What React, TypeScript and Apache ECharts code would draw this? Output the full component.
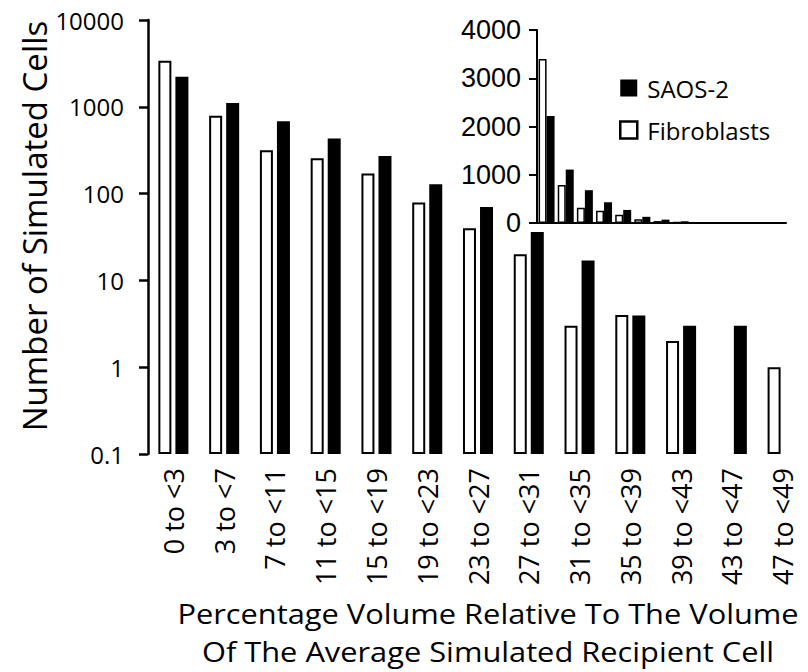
import React, { useEffect, useRef } from "react";
import * as echarts from "echarts";

const categories = [
  "0 to <3", "3 to <7", "7 to <11", "11 to <15", "15 to <19", "19 to <23", "23 to <27",
  "27 to <31", "31 to <35", "35 to <39", "39 to <43", "43 to <47", "47 to <49",
];
const fibroblasts = [3400, 790, 315, 255, 170, 79, 40, 20, 3, 4, 2, 0, 1];
const saos2 = [2220, 1107, 680, 430, 271, 128, 70, 36, 17, 3.95, 3, 3, 0];
const logTickLabels = ["0.1", "1", "10", "100", "1000", "10000"];
const insetTicks = [0, 1000, 2000, 3000, 4000];
const xTitleLines = [
  "Percentage Volume Relative To The Volume",
  "Of The Average Simulated Recipient Cell",
];

const toLog = (v: number) => (v > 0 ? Math.log10(v) + 1 : null);

export default function App() {
  const ref = useRef<HTMLDivElement>(null);
  useEffect(() => {
    if (!ref.current) return;
    const chart = echarts.init(ref.current, undefined, { renderer: "svg" });
    const whiteStyle = { color: "#ffffff", borderColor: "#000000", borderWidth: 2 };
    const blackStyle = { color: "#000000" };
    chart.setOption({
      animation: false,
      backgroundColor: "#ffffff",
      grid: [
        { left: 148, right: -24, top: 20, bottom: 218 },
        { left: 537, width: 249, top: 30, height: 193 },
      ],
      legend: {
        data: [
          { name: "SAOS-2", itemStyle: { color: "#000", borderColor: "#000", borderWidth: 0 } },
          { name: "Fibroblasts", itemStyle: { color: "#fff", borderColor: "#000", borderWidth: 2.5 } },
        ],
        orient: "vertical",
        left: 614,
        top: 71,
        itemWidth: 17,
        itemHeight: 17,
        itemGap: 18,
        icon: "rect",
        selectedMode: false,
        textStyle: {
          fontFamily: "Open Sans",
          fontSize: 24,
          color: "#000",
          padding: [0, 0, 0, 5],
        },
      },
      xAxis: [
        {
          type: "category",
          gridIndex: 0,
          data: categories,
          axisLine: { show: false },
          axisTick: { show: false },
          axisLabel: {
            rotate: 90,
            interval: 0,
            margin: 14,
            color: "#000",
            fontFamily: "Open Sans",
            fontSize: 27,
          },
        },
        {
          type: "category",
          gridIndex: 1,
          data: categories,
          axisLine: { show: true, lineStyle: { color: "#000", width: 2 } },
          axisTick: { show: false },
          axisLabel: { show: false },
        },
      ],
      yAxis: [
        {
          type: "value",
          gridIndex: 0,
          min: 0,
          max: 5,
          interval: 1,
          splitLine: { show: false },
          axisLine: { show: true, lineStyle: { color: "#000", width: 2.5 } },
          axisTick: { show: true, length: 9, lineStyle: { color: "#000", width: 2.5 } },
          axisLabel: {
            margin: 24,
            color: "#000",
            fontFamily: "Open Sans",
            fontSize: 24,
            formatter: (v: number) => logTickLabels[Math.round(v)],
          },
        },
        {
          type: "value",
          gridIndex: 1,
          min: insetTicks[0],
          max: insetTicks[insetTicks.length - 1],
          interval: 1000,
          splitLine: { show: false },
          axisLine: { show: true, lineStyle: { color: "#000", width: 2 } },
          axisTick: { show: true, length: 8, lineStyle: { color: "#000", width: 2 } },
          axisLabel: {
            margin: 16,
            color: "#000",
            fontFamily: "Liberation Sans",
            fontSize: 27,
            formatter: (v: number) => String(v),
          },
        },
      ],
      series: [
        {
          name: "Fibroblasts",
          type: "bar",
          xAxisIndex: 0,
          yAxisIndex: 0,
          data: fibroblasts.map(toLog),
          barWidth: 13,
          barGap: "31%",
          itemStyle: whiteStyle,
        },
        {
          name: "SAOS-2",
          type: "bar",
          xAxisIndex: 0,
          yAxisIndex: 0,
          data: saos2.map(toLog),
          barWidth: 13,
          barGap: "31%",
          itemStyle: blackStyle,
        },
        {
          name: "Fibroblasts",
          type: "bar",
          xAxisIndex: 1,
          yAxisIndex: 1,
          data: fibroblasts,
          barWidth: 8,
          barGap: "0%",
          itemStyle: { color: "#fff", borderColor: "#000", borderWidth: 1.5 },
        },
        {
          name: "SAOS-2",
          type: "bar",
          xAxisIndex: 1,
          yAxisIndex: 1,
          data: saos2,
          barWidth: 8,
          barGap: "0%",
          itemStyle: blackStyle,
        },
      ],
      graphic: [
        {
          type: "text",
          x: 34,
          y: 226,
          rotation: Math.PI / 2,
          style: {
            text: "Number of Simulated Cells",
            align: "center",
            verticalAlign: "middle",
            fontFamily: "Open Sans",
            fontSize: 33,
            fill: "#000",
          },
        },
        ...xTitleLines.map((line, i) => ({
          type: "text",
          x: 488,
          y: 614 + i * 38,
          scaleX: 1.1,
          style: {
            text: line,
            align: "center",
            verticalAlign: "middle",
            fontFamily: "Open Sans",
            fontSize: 28,
            fill: "#000",
          },
        })),
      ],
    });
    return () => chart.dispose();
  }, []);
  return (
    <div
      ref={ref}
      style={{ position: "fixed", left: 0, top: 0, width: 808, height: 672 }}
    />
  );
}
